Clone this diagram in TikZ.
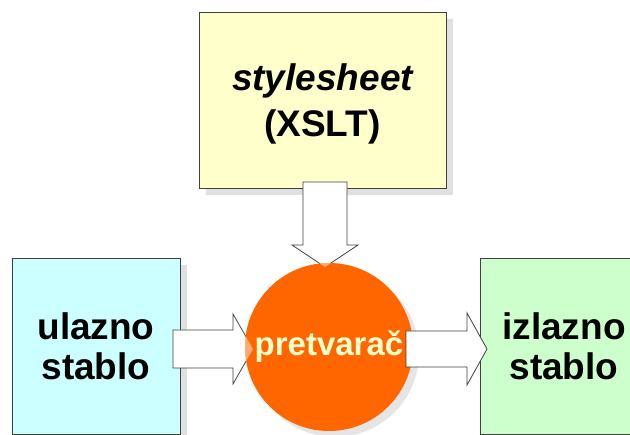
\documentclass[tikz,border=0pt]{standalone}
\usepackage{fontspec}
\setmainfont{Liberation Sans}
\usetikzlibrary{shadows}
\definecolor{sheetyellow}{HTML}{FFFFCC}
\definecolor{inputcyan}{HTML}{CCFFFF}
\definecolor{outputgreen}{HTML}{CCFFCC}
\definecolor{convorange}{HTML}{FF6600}
\definecolor{edgegray}{HTML}{404040}
\begin{document}
\begin{tikzpicture}
[every node/.style={inner sep=0pt},
 box/.style={rectangle, line width=0.8pt, draw=edgegray, align=center,
   font=\fontsize{37}{40}\selectfont\bfseries,
   drop shadow={shadow xshift=7pt, shadow yshift=-7pt, fill=black, opacity=0.12}},
 blockarrow/.style={fill=white, draw=edgegray, line width=0.8pt, line join=miter}]
\useasboundingbox (0pt, 0pt) rectangle (630pt, -435pt);
\node (sheet) [box, fill=sheetyellow, minimum width=247pt, minimum height=176pt] at (322.5pt, -100pt) {};
\node (sheettext) [align=center, font=\fontsize{37}{46}\selectfont\bfseries] at (322.5pt, -104pt) {\itshape stylesheet\\(XSLT)};
\node (in) [box, fill=inputcyan, minimum width=168pt, minimum height=176pt] at (96pt, -346pt) {ulazno\\stablo};
\node (out) [box, fill=outputgreen, minimum width=168pt, minimum height=176pt] at (564pt, -346pt) {izlazno\\stablo};
\draw [blockarrow] (303pt, -182pt) -- (347pt, -182pt) -- (347pt, -245pt) -- (358pt, -245pt) -- (325pt, -267pt) -- (292pt, -245pt) -- (303pt, -245pt) -- cycle;
\draw [blockarrow] (173pt, -330pt) -- (233pt, -330pt) -- (233pt, -314pt) -- (253pt, -349pt) -- (233pt, -384pt) -- (233pt, -368pt) -- (173pt, -368pt) -- cycle;
\node (conv) [circle, minimum size=168pt, fill=convorange,
   drop shadow={shadow xshift=6pt, shadow yshift=-6pt, fill=black, opacity=0.1}] at (329pt, -347pt) {};
\begin{scope}
\clip (329pt, -347pt) circle (84pt);
\fill [white, fill opacity=0.45] (303pt, -245pt) -- (358pt, -245pt) -- (325pt, -267pt) -- (292pt, -245pt) -- cycle;
\fill [white, fill opacity=0.45] (233pt, -314pt) -- (253pt, -349pt) -- (233pt, -384pt) -- cycle;
\end{scope}
\draw [blockarrow] (406pt, -331pt) -- (467pt, -331pt) -- (467pt, -313pt) -- (487pt, -349pt) -- (467pt, -385pt) -- (467pt, -367pt) -- (406pt, -367pt) -- cycle;
\node (label) [text=sheetyellow, font=\fontsize{33}{40}\selectfont\bfseries] at (conv) {pretvarač};
\end{tikzpicture}
\end{document}
